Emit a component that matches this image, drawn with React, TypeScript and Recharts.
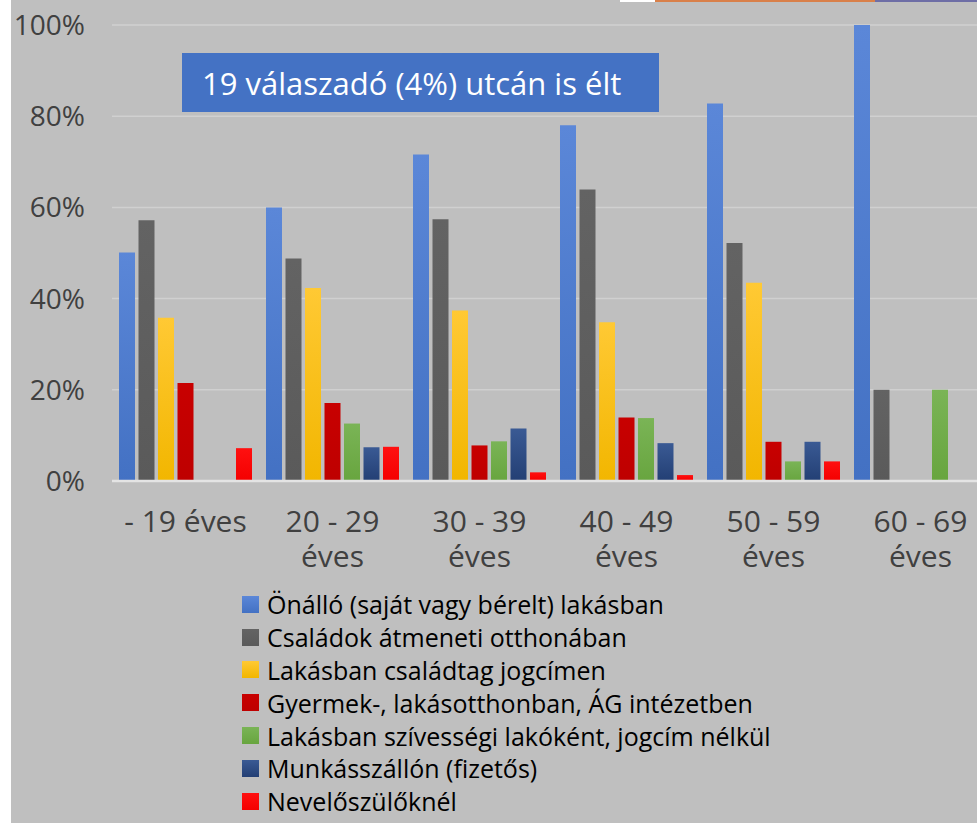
import { BarChart, Bar, XAxis, YAxis, CartesianGrid, Legend } from "recharts"

// age groups
const categories = ["- 19 éves", "20 - 29 éves", "30 - 39 éves", "40 - 49 éves", "50 - 59 éves", "60 - 69 éves"]

// share of respondents (%) per housing situation
const onallo = [50.1, 60.0, 71.6, 78.0, 82.8, 100]
const csaladokAtmeneti = [57.2, 48.8, 57.4, 63.9, 52.2, 20.0]
const csaladtagJogcimen = [35.8, 42.3, 37.4, 34.8, 43.5, null]
const gyermekOtthon = [21.5, 17.1, 7.8, 13.9, 8.6, null]
const szivessegi = [null, 12.6, 8.7, 13.8, 4.3, 20.0]
const munkasszallo = [null, 7.4, 11.5, 8.3, 8.6, null]
const nevelo = [7.2, 7.5, 1.9, 1.3, 4.3, null]

const yTicks = [0, 20, 40, 60, 80, 100]

const series = [
  { key: "onallo", name: "Önálló (saját vagy bérelt) lakásban", values: onallo, top: "#5b87d8", bottom: "#4371c3" },
  { key: "csaladok", name: "Családok átmeneti otthonában", values: csaladokAtmeneti, top: "#636363", bottom: "#5a5a5a" },
  { key: "csaladtag", name: "Lakásban családtag jogcímen", values: csaladtagJogcimen, top: "#ffc934", bottom: "#f2b600" },
  { key: "gyermek", name: "Gyermek-, lakásotthonban, ÁG intézetben", values: gyermekOtthon, top: "#c80000", bottom: "#be0000" },
  { key: "szivessegi", name: "Lakásban szívességi lakóként, jogcím nélkül", values: szivessegi, top: "#7ab456", bottom: "#68a53f" },
  { key: "munkas", name: "Munkásszállón (fizetős)", values: munkasszallo, top: "#3a5a94", bottom: "#233f74" },
  { key: "nevelo", name: "Nevelőszülőknél", values: nevelo, top: "#ff1010", bottom: "#f40000" },
]

const data = categories.map((c, i) => {
  const row: Record<string, string | number | null> = { category: c }
  series.forEach((s) => {
    row[s.key] = s.values[i]
  })
  return row
})

const FONT = "'Open Sans', sans-serif"

function CategoryTick({ x, y, payload }: { x: number; y: number; payload: { value: string } }) {
  const label = payload.value
  const lines = label.startsWith("-") ? [label] : [label.replace(" éves", ""), "éves"]
  return (
    <text x={x} y={y} textAnchor="middle" fill="#404040" fontSize={30} fontFamily={FONT}>
      {lines.map((l, i) => (
        <tspan key={i} x={x} dy={i === 0 ? 51 : 35}>
          {l}
        </tspan>
      ))}
    </text>
  )
}

function LegendList() {
  return (
    <div style={{ fontFamily: FONT, fontSize: 25, color: "#000" }}>
      {series.map((s) => (
        <div key={s.key} style={{ height: 32.8, display: "flex", alignItems: "center" }}>
          <span
            style={{
              width: 17,
              height: 17,
              marginRight: 8,
              background: `linear-gradient(${s.top}, ${s.bottom})`,
              display: "inline-block",
            }}
          />
          <span style={{ whiteSpace: "nowrap" }}>{s.name}</span>
        </div>
      ))}
    </div>
  )
}

export default function App() {
  return (
    <div style={{ position: "fixed", left: 0, top: 0, width: 977, height: 827, overflow: "hidden", background: "#fff" }}>
      <div style={{ position: "absolute", left: 11, top: 0, width: 966, height: 823, background: "#bfbfbf" }} />
      <div style={{ position: "absolute", left: 620, top: 0, width: 35, height: 2, background: "#fff" }} />
      <div style={{ position: "absolute", left: 655, top: 0, width: 220, height: 2, background: "#d9804a" }} />
      <div style={{ position: "absolute", left: 875, top: 0, width: 102, height: 2, background: "#6e6ea6" }} />
      <div style={{ position: "absolute", left: 0, top: 0 }}>
        <BarChart
          width={1000}
          height={827}
          data={data}
          margin={{ top: 25, right: 6, left: 0, bottom: 246 }}
          barGap={3.5}
          barSize={16}
        >
          <defs>
            {series.map((s) => (
              <linearGradient key={s.key} id={`grad-${s.key}`} x1="0" y1="0" x2="0" y2="1">
                <stop offset="0%" stopColor={s.top} />
                <stop offset="100%" stopColor={s.bottom} />
              </linearGradient>
            ))}
          </defs>
          <CartesianGrid vertical={false} stroke="#d0d0d0" strokeWidth={1.5} />
          <XAxis
            dataKey="category"
            height={100}
            axisLine={{ stroke: "#e4e4e4", strokeWidth: 2.5 }}
            tickLine={false}
            tickSize={0}
            tickMargin={0}
            interval={0}
            tick={CategoryTick}
          />
          <YAxis
            width={112}
            domain={[0, 100]}
            ticks={yTicks}
            axisLine={false}
            tickLine={false}
            tickSize={0}
            tickMargin={27}
            tickFormatter={(v: number) => `${v}%`}
            tick={{ fill: "#404040", fontSize: 28, fontFamily: FONT }}
          />
          {series.map((s) => (
            <Bar key={s.key} dataKey={s.key} name={s.name} fill={`url(#grad-${s.key})`} isAnimationActive={false} />
          ))}
          <Legend
            layout="vertical"
            align="center"
            verticalAlign="middle"
            wrapperStyle={{ left: 242, top: 588, width: 640, height: 230 }}
            content={() => <LegendList />}
          />
        </BarChart>
      </div>
      <div
        style={{
          position: "absolute",
          left: 182,
          top: 53,
          width: 477,
          height: 59,
          background: "#4472c4",
          color: "#fff",
          fontFamily: FONT,
          fontSize: 31,
          display: "flex",
          alignItems: "center",
          paddingLeft: 20,
          boxSizing: "border-box",
        }}
      >
        19 válaszadó (4%) utcán is élt
      </div>
    </div>
  )
}
